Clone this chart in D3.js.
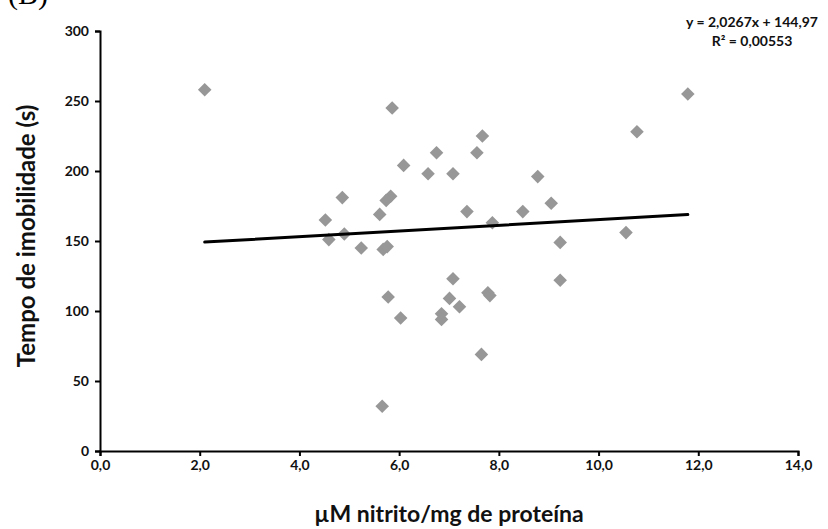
<!DOCTYPE html>
<html>
<head>
<meta charset="utf-8">
<script src="https://cdn.jsdelivr.net/npm/d3@7"></script>
<style>
  body { margin: 0; background: #fff; }
  text { font-family: Lato, "Open Sans", sans-serif; font-weight: bold; }
</style>
</head>
<body>
<div id="my_dataviz"></div>
<script>

// data
const nitrito = [2.10, 5.86, 6.75, 6.09, 6.58, 7.08, 7.56, 7.67, 4.86, 5.83, 5.74, 4.52, 5.61,
    7.36, 4.59, 4.90, 5.24, 5.68, 5.76, 11.79, 10.77, 8.78, 9.05, 8.48, 7.87, 10.55, 9.23,
    7.08, 5.78, 7.01, 7.21, 6.85, 6.85, 6.03, 5.66, 7.65, 9.23, 7.78, 7.82]
const imobilidade = [258, 245, 213, 204, 198, 198, 213, 225, 181, 182, 179, 165, 169,
    171, 151, 155, 145, 144, 146, 255, 228, 196, 177, 171, 163, 156, 149,
    123, 110, 109, 103, 98, 94, 95, 32, 69, 122, 113, 111]
const xTicks = [0, 2, 4, 6, 8, 10, 12, 14]
const yTicks = [0, 50, 100, 150, 200, 250, 300]
const slope = 2.0267, intercept = 144.97
const equation = ["y = 2,0267x + 144,97", "R² = 0,00553"]

const width = 828, height = 529

const svg = d3.select("#my_dataviz")
    .append("svg")
    .attr("width", width)
    .attr("height", height)

const x = d3.scaleLinear()
    .domain([0, 14])
    .range([100, 798])

const y = d3.scaleLinear()
    .domain([0, 300])
    .range([451, 31])

const fmt = d => d3.format(".1f")(d).replace(".", ",")

// axes
svg.append("g")
    .attr("transform", `translate(0, ${y(0)})`)
    .call(d3.axisBottom(x).tickValues(xTicks).tickFormat(fmt).tickSize(5).tickSizeOuter(5).tickPadding(4))
svg.append("g")
    .attr("transform", `translate(${x(0)}, 0)`)
    .call(d3.axisLeft(y).tickValues(yTicks).tickSize(5).tickSizeOuter(5).tickPadding(6))

svg.selectAll(".domain, .tick line")
    .attr("stroke", "black")
    .attr("stroke-width", 2)
svg.selectAll(".tick text")
    .attr("fill", "#111")
    .style("font-size", "14px")

// points as diamonds
const points = d3.range(nitrito.length).map(i => [nitrito[i], imobilidade[i]])
svg.append("g")
    .selectAll("path")
    .data(points)
    .enter().append("path")
    .attr("d", d3.symbol(d3.symbolSquare, 92))
    .attr("transform", d => `translate(${x(d[0])}, ${y(d[1])}) rotate(45)`)
    .attr("fill", "#979797")

// trend line
const x0 = d3.min(nitrito), x1 = d3.max(nitrito)
svg.append("line")
    .attr("x1", x(x0)).attr("y1", y(slope * x0 + intercept))
    .attr("x2", x(x1)).attr("y2", y(slope * x1 + intercept))
    .attr("stroke", "black")
    .attr("stroke-width", 3)
    .attr("stroke-linecap", "round")

// equation
svg.append("g")
    .selectAll("text")
    .data(equation)
    .enter().append("text")
    .attr("x", 752)
    .attr("y", (d, i) => 27 + i * 19)
    .attr("text-anchor", "middle")
    .attr("fill", "#111")
    .style("font-size", "14px")
    .text(d => d)

// axis titles
svg.append("text")
    .attr("transform", `translate(35, 236) rotate(-90)`)
    .attr("text-anchor", "middle")
    .attr("fill", "#111")
    .style("font-size", "24px")
    .text("Tempo de imobilidade (s)")

svg.append("text")
    .attr("x", 449)
    .attr("y", 522)
    .attr("text-anchor", "middle")
    .attr("fill", "#111")
    .style("font-size", "23px")
    .text("µM nitrito/mg de proteína")

// panel label, cut off at the top
svg.append("text")
    .attr("x", 8)
    .attr("y", 4)
    .style("font-family", "'Liberation Serif', serif")
    .style("font-weight", "normal")
    .style("font-size", "30px")
    .text("(B)")

</script>
</body>
</html>
